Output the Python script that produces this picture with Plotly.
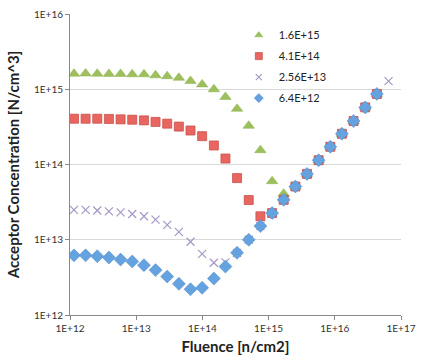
import plotly.graph_objects as go

fluence = [1.15e12, 1.72e12, 2.58e12, 3.87e12, 5.81e12, 8.71e12, 1.31e13, 1.96e13,
           2.94e13, 4.41e13, 6.61e13, 9.91e13, 1.49e14, 2.23e14, 3.34e14, 5.01e14,
           7.52e14, 1.13e15, 1.69e15, 2.54e15, 3.80e15, 5.70e15, 8.55e15, 1.28e16,
           1.92e16, 2.88e16, 4.32e16, 6.49e16]

common_tail = [2.26e13, 3.39e13, 5.1e13, 7.5e13, 1.14e14, 1.72e14, 2.56e14, 3.78e14, 5.74e14, 8.66e14]

s_16e15 = [1.61e15, 1.62e15, 1.61e15, 1.60e15, 1.60e15, 1.58e15, 1.58e15, 1.53e15, 1.49e15,
           1.42e15, 1.29e15, 1.16e15, 1.0e15, 7.9e14, 5.5e14, 3.27e14, 1.55e14, 6.0e13, 4.1e13,
           5.1e13, 7.5e13, 1.14e14, 1.72e14, 2.56e14, 3.78e14, 5.74e14, 8.66e14]
s_41e14 = [4.06e14, 4.06e14, 4.06e14, 4.03e14, 3.98e14, 3.94e14, 3.86e14, 3.68e14, 3.49e14,
           3.19e14, 2.83e14, 2.38e14, 1.79e14, 1.2e14, 6.6e13, 3.37e13, 2.05e13] + common_tail
s_256e13 = [2.5e13, 2.5e13, 2.45e13, 2.38e13, 2.31e13, 2.2e13, 2.05e13, 1.85e13, 1.58e13,
            1.27e13, 9.4e12, 6.5e12, 4.95e12, 5.0e12, 6.7e12, 1.0e13, 1.52e13] + common_tail + [1.28e15]
s_64e12 = [6.2e12, 6.2e12, 6.05e12, 5.8e12, 5.45e12, 5.15e12, 4.6e12, 3.95e12, 3.24e12,
           2.6e12, 2.2e12, 2.3e12, 3.05e12, 4.4e12, 6.7e12, 1.0e13, 1.52e13] + common_tail

legend_names = ["1.6E+15", "4.1E+14", "2.56E+13", "6.4E+12"]
tick_vals = [1e12, 1e13, 1e14, 1e15, 1e16, 1e17]
tick_text = ["1E+12", "1E+13", "1E+14", "1E+15", "1E+16", "1E+17"]
ytick_vals = [1e12, 1e13, 1e14, 1e15, 1e16]
ytick_text = ["1E+12", "1E+13", "1E+14", "1E+15", "1E+16"]

styles = {
    "1.6E+15": dict(symbol="triangle-up", color="#9DC05C", line=dict(width=0.5, color="#8AAE4A")),
    "4.1E+14": dict(symbol="square", color="#E8665F", line=dict(width=0.8, color="#C9504C")),
    "2.56E+13": dict(symbol="x-thin", color="#A597C6", line=dict(width=1.2, color="#A597C6")),
    "6.4E+12": dict(symbol="diamond", color="#65A2E0", line=dict(width=0.5, color="#4F88C6")),
}
sizes = {"1.6E+15": 10, "4.1E+14": 9, "2.56E+13": 8, "6.4E+12": 10}

series = {"1.6E+15": s_16e15, "2.56E+13": s_256e13, "4.1E+14": s_41e14, "6.4E+12": s_64e12}

fig = go.Figure()
for name in ["1.6E+15", "2.56E+13", "4.1E+14", "6.4E+12"]:
    vals = series[name]
    fig.add_trace(go.Scatter(x=fluence[:len(vals)], y=vals, mode="markers", name=name,
                             showlegend=False,
                             marker=dict(size=sizes[name], **styles[name])))

# legend entries with smaller symbols, as in the reference
for rank, name in enumerate(legend_names):
    fig.add_trace(go.Scatter(x=[None], y=[None], mode="markers", name=name, legendrank=rank + 1,
                             legendgroup="g%d" % rank,
                             marker=dict(size=7 if name != "2.56E+13" else 6, **styles[name])))

axis_font = dict(family="Lato, Open Sans, sans-serif", size=10, color="#333333")
title_font = dict(family="Lato, Open Sans, sans-serif", size=15, color="#222222")

fig.update_xaxes(type="log", range=[12, 17], tickvals=tick_vals, ticktext=tick_text,
                 showgrid=False, zeroline=False, showline=True, linecolor="#888888", linewidth=1,
                 ticks="outside", ticklen=4, tickcolor="#888888", tickfont=axis_font,
                 title=dict(text="<b>Fluence [n/cm2]</b>", font=title_font, standoff=8))
fig.update_yaxes(type="log", range=[12, 16], tickvals=ytick_vals, ticktext=ytick_text,
                 showgrid=True, gridcolor="#D9D9D9", gridwidth=1, zeroline=False,
                 showline=True, linecolor="#888888", linewidth=1,
                 ticks="outside", ticklen=4, tickcolor="#888888", tickfont=axis_font,
                 title=dict(text="<b>Acceptor Concentration [N/cm^3]</b>", font=title_font, standoff=10))

fig.update_layout(
    width=423, height=362,
    margin=dict(l=70, r=16, t=7, b=47),
    paper_bgcolor="white", plot_bgcolor="white",
    showlegend=True,
    legend=dict(x=0.51, y=0.978, xanchor="left", yanchor="top",
                bgcolor="rgba(0,0,0,0)",
                font=dict(family="Lato, Open Sans, sans-serif", size=11, color="#222222"),
                itemwidth=30, tracegroupgap=2, traceorder="grouped"),
)

fig.write_html("out.html")
